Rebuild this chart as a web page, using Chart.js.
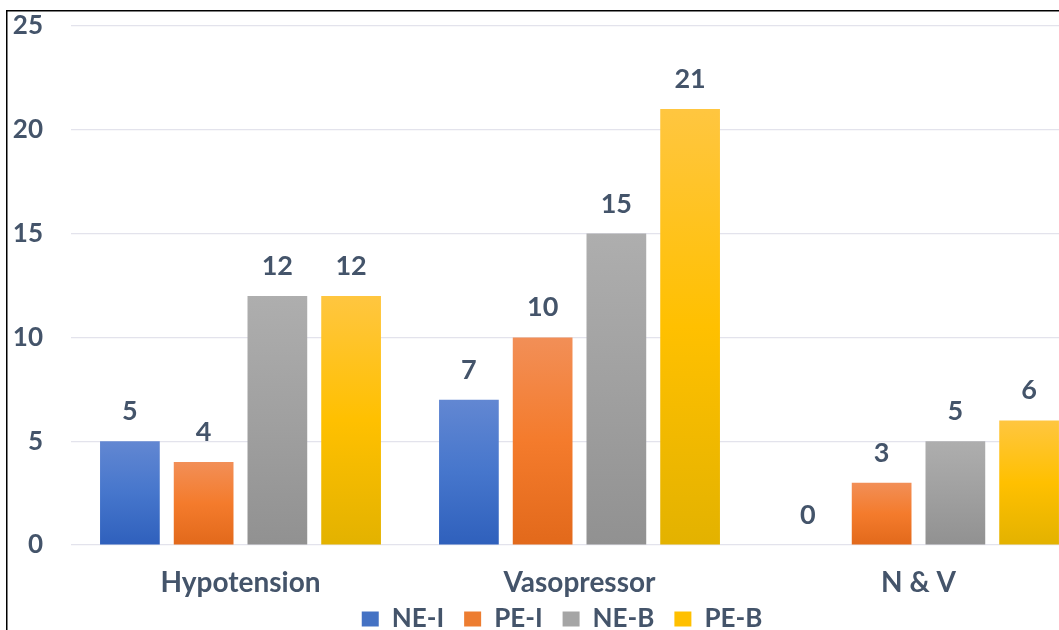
<!DOCTYPE html>
<html>
<head>
<meta charset="utf-8">
<script src="https://cdn.jsdelivr.net/npm/chart.js@4"></script>
<style>
  html, body { margin: 0; padding: 0; background: #fff; overflow: hidden; }
  #wrap { position: absolute; left: 0; top: 0; width: 1120px; height: 657px; }
</style>
</head>
<body>
<div id="wrap"><canvas id="chartMain"></canvas></div>
<script>
const categories = ["Hypotension", "Vasopressor", "N & V"];
const seriesNames = ["NE-I", "PE-I", "NE-B", "PE-B"];
const neI = [5, 7, 0];
const peI = [4, 10, 3];
const neB = [12, 15, 5];
const peB = [12, 21, 6];
const yTicks = [0, 5, 10, 15, 20, 25];

// top / middle / bottom stops of each bar gradient
const gradientStops = [
    ["#6287D2", "#4676CC", "#2F60BC"],
    ["#F28F57", "#F47B2C", "#E2691B"],
    ["#AEAEAE", "#A0A0A0", "#919191"],
    ["#FFC640", "#FFC000", "#E3B200"]
];
const legendColors = ["#4472C4", "#ED7D31", "#A5A5A5", "#FFC000"];
const textColor = "#44546A";
const fontFamily = "Lato, 'Open Sans', sans-serif";

function barGradient(idx) {
    return (context) => {
        const chart = context.chart;
        const yScale = chart.scales.y;
        if (!yScale || context.raw === undefined) return legendColors[idx];
        const top = yScale.getPixelForValue(context.raw);
        const base = yScale.getPixelForValue(0);
        if (!isFinite(top) || Math.abs(base - top) < 1) return legendColors[idx];
        const g = chart.ctx.createLinearGradient(0, top, 0, base);
        g.addColorStop(0, gradientStops[idx][0]);
        g.addColorStop(0.5, gradientStops[idx][1]);
        g.addColorStop(1, gradientStops[idx][2]);
        return g;
    };
}

const valueLabels = {
    id: "valueLabels",
    afterDatasetsDraw(chart) {
        const ctx = chart.ctx;
        ctx.save();
        ctx.fillStyle = textColor;
        ctx.font = "bold 27px " + fontFamily;
        ctx.textAlign = "center";
        ctx.textBaseline = "alphabetic";
        chart.data.datasets.forEach((ds, i) => {
            chart.getDatasetMeta(i).data.forEach((bar, j) => {
                ctx.fillText(String(ds.data[j]), bar.x, bar.y - 21);
            });
        });
        ctx.restore();
    }
};

// legend sits a bit closer to the category labels than the box layout allows
const legendLift = {
    id: "legendLift",
    afterLayout(chart) {
        const lg = chart.legend;
        if (!lg) return;
        lg.top -= 15;
        lg.bottom -= 15;
        lg.left += 18;
        lg.right += 18;
    }
};

const frameLines = {
    id: "frameLines",
    afterDraw(chart) {
        const ctx = chart.ctx;
        ctx.save();
        ctx.strokeStyle = "#000";
        ctx.lineWidth = 1.5;
        ctx.beginPath();
        ctx.moveTo(6.75, 700);
        ctx.lineTo(6.75, 10.75);
        ctx.lineTo(1200, 10.75);
        ctx.stroke();
        ctx.restore();
    }
};

const seriesData = [neI, peI, neB, peB];

new Chart(document.getElementById("chartMain").getContext("2d"), {
    type: "bar",
    data: {
        labels: categories,
        datasets: seriesNames.map((name, i) => ({
            label: name,
            data: seriesData[i],
            backgroundColor: barGradient(i),
            borderWidth: 0,
            categoryPercentage: 0.87,
            barPercentage: 0.81
        }))
    },
    options: {
        responsive: true,
        maintainAspectRatio: false,
        animation: false,
        layout: { padding: { top: 26, right: 32, bottom: 0, left: 0 } },
        plugins: {
            legend: {
                position: "bottom",
                labels: {
                    color: textColor,
                    font: { family: fontFamily, size: 26, weight: "bold" },
                    boxWidth: 17,
                    boxHeight: 15,
                    padding: 20,
                    generateLabels: (chart) => seriesNames.map((name, i) => ({
                        text: name,
                        fillStyle: legendColors[i],
                        strokeStyle: legendColors[i],
                        lineWidth: 0,
                        fontColor: textColor,
                        datasetIndex: i
                    }))
                }
            },
            tooltip: { enabled: false }
        },
        scales: {
            x: {
                grid: { display: false, drawTicks: false },
                border: { display: false },
                afterFit: (scale) => { scale.height = 56; },
                ticks: {
                    color: textColor,
                    font: { family: fontFamily, size: 28, weight: "bold" },
                    padding: 21
                }
            },
            y: {
                min: 0,
                max: 25,
                afterFit: (scale) => {
                    scale.width = 71;
                    scale.paddingTop = 0;
                    scale.paddingBottom = 0;
                },
                afterBuildTicks: (scale) => { scale.ticks = yTicks.map(v => ({ value: v })); },
                grid: { color: "#E3E3EC", lineWidth: 1.2, drawTicks: false },
                border: { display: false },
                ticks: {
                    color: textColor,
                    font: { family: fontFamily, size: 26, weight: "bold" },
                    padding: 28
                }
            }
        }
    },
    plugins: [valueLabels, legendLift, frameLines]
});
</script>
</body>
</html>
